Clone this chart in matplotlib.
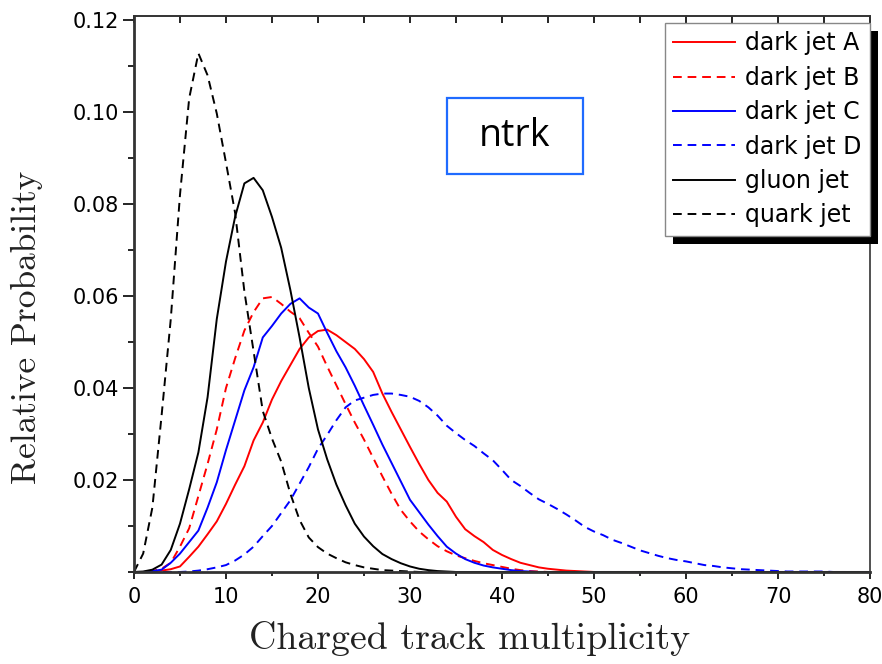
import matplotlib.pyplot as plt
from matplotlib.patches import Rectangle
from matplotlib.ticker import MultipleLocator, FixedLocator, FixedFormatter
import numpy as np

# charged track multiplicity bins 0..80, relative probability per bin
ntrk = list(range(0, 81))

quark_jet = [0.0, 0.004, 0.014, 0.034, 0.055, 0.082, 0.103, 0.1128, 0.108, 0.0997,
             0.089, 0.078, 0.061, 0.048, 0.035, 0.029, 0.024, 0.017, 0.0113, 0.0075,
             0.0054, 0.004, 0.003, 0.0021, 0.0015, 0.001, 0.0007, 0.0004, 0.0003, 0.0002,
             0.0001]
gluon_jet = [0.0, 0.0001, 0.0005, 0.0016, 0.0048, 0.0105, 0.018, 0.026, 0.038, 0.055,
             0.0675, 0.0773, 0.0845, 0.0857, 0.083, 0.0772, 0.0705, 0.0613, 0.051, 0.040,
             0.031, 0.0245, 0.019, 0.0145, 0.0105, 0.0077, 0.0056, 0.0039, 0.0028, 0.0019,
             0.0012, 0.0007, 0.0004, 0.0002, 0.0001]
dark_a = [0.0, 0.0, 0.0001, 0.0003, 0.0006, 0.0012, 0.0033, 0.0055, 0.0082, 0.011,
          0.0148, 0.019, 0.023, 0.0286, 0.0325, 0.0375, 0.0415, 0.045, 0.0485, 0.051,
          0.0524, 0.0527, 0.0515, 0.050, 0.0485, 0.0463, 0.0435, 0.0388, 0.0348, 0.031,
          0.0272, 0.0235, 0.020, 0.0172, 0.0153, 0.012, 0.0093, 0.0078, 0.0065, 0.0048,
          0.0037, 0.0028, 0.002, 0.0015, 0.001, 0.0007, 0.0005, 0.0003, 0.0002, 0.0001]
dark_b = [0.0, 0.0, 0.0002, 0.0007, 0.002, 0.0055, 0.0095, 0.0165, 0.0235, 0.031,
          0.040, 0.0465, 0.0525, 0.0565, 0.0595, 0.0598, 0.0583, 0.0566, 0.0552, 0.052,
          0.049, 0.0447, 0.0406, 0.0365, 0.0325, 0.0288, 0.0248, 0.0208, 0.017, 0.0135,
          0.011, 0.0088, 0.0071, 0.0056, 0.0045, 0.0036, 0.003, 0.0024, 0.0019, 0.0015,
          0.0011, 0.0007, 0.0004, 0.0002, 0.0001]
dark_c = [0.0, 0.0, 0.0002, 0.0005, 0.002, 0.004, 0.0065, 0.009, 0.014, 0.0195,
          0.0265, 0.033, 0.0395, 0.0445, 0.051, 0.0535, 0.0562, 0.0583, 0.0595, 0.0575,
          0.0562, 0.052, 0.048, 0.0445, 0.0405, 0.0362, 0.032, 0.0277, 0.0237, 0.0197,
          0.0157, 0.013, 0.0103, 0.0078, 0.0055, 0.004, 0.0028, 0.002, 0.0014, 0.001,
          0.0007, 0.0004, 0.0002, 0.0001]
dark_d = [0.0, 0.0, 0.0, 0.0, 0.0, 0.0, 0.0001, 0.0003, 0.0006, 0.001,
          0.0015, 0.0025, 0.0038, 0.0055, 0.0078, 0.010, 0.0128, 0.0156, 0.0192, 0.0228,
          0.0268, 0.0298, 0.033, 0.0358, 0.0373, 0.0379, 0.0385, 0.0388, 0.0388, 0.0385,
          0.0381, 0.0372, 0.0358, 0.034, 0.0318, 0.0302, 0.0287, 0.0274, 0.0258, 0.0243,
          0.0222, 0.020, 0.0187, 0.0172, 0.0158, 0.0148, 0.0137, 0.0125, 0.0112, 0.0098,
          0.0088, 0.008, 0.007, 0.0063, 0.0055, 0.0047, 0.0041, 0.0035, 0.003, 0.0026,
          0.0023, 0.0019, 0.0015, 0.0013, 0.001, 0.0008, 0.0006, 0.0005, 0.0004, 0.0003,
          0.0002, 0.0001, 0.0001, 0.0001, 0.0001, 0.0001]


def full(vals):
    # curves sit at zero for the rest of the range
    return vals + [0.0] * (len(ntrk) - len(vals))


series = [
    (dark_a, 'dark jet A', 'red', '-'),
    (dark_b, 'dark jet B', 'red', '--'),
    (dark_c, 'dark jet C', 'blue', '-'),
    (dark_d, 'dark jet D', 'blue', '--'),
    (gluon_jet, 'gluon jet', 'black', '-'),
    (quark_jet, 'quark jet', 'black', '--'),
]

fig = plt.figure(figsize=(8.82, 6.64), dpi=100)
ax = fig.add_axes([0.1519, 0.1386, 0.8345, 0.8373])

for vals, lab, col, ls in series:
    line, = ax.plot(ntrk, full(vals), color=col, lw=1.4, ls=ls, label=lab)
    if ls == '--':
        line.set_dashes((4.5, 3))

ax.set_xlim(0, 80)
ax.set_ylim(0, 0.1209)

ax.xaxis.set_major_locator(MultipleLocator(10))
ax.xaxis.set_minor_locator(MultipleLocator(5))
yt = [0.02, 0.04, 0.06, 0.08, 0.10, 0.12]
ax.yaxis.set_major_locator(FixedLocator(yt))
ax.yaxis.set_major_formatter(FixedFormatter(['%.2f' % v for v in yt]))
ax.yaxis.set_minor_locator(MultipleLocator(0.01))

ax.tick_params(axis='x', which='major', direction='out', length=5, width=1.2, pad=6,
               labelsize=15, top=False)
ax.tick_params(axis='x', which='minor', direction='out', length=3, width=1.2, top=False)
ax.tick_params(axis='y', which='major', direction='out', length=8, width=1.2, pad=3,
               labelsize=15, right=False)
ax.tick_params(axis='y', which='minor', direction='out', length=4.5, width=1.2, right=False)

top = ax.secondary_xaxis('top')
top.set_xticks(np.arange(0, 81, 5))
top.tick_params(axis='x', direction='in', length=5, width=1.2, labeltop=False)

for s in ['left', 'bottom']:
    ax.spines[s].set_linewidth(2.0)
    ax.spines[s].set_color('#333333')
for s in ['top', 'right']:
    ax.spines[s].set_linewidth(1.2)
    ax.spines[s].set_color('#333333')
top.spines['top'].set_linewidth(1.2)
top.spines['top'].set_color('#333333')

ax.set_xlabel('Charged track multiplicity', fontfamily='cmr10', fontsize=27.3,
              color='#222222')
ax.set_ylabel('Relative Probability', fontfamily='cmr10', fontsize=25.5,
              color='#222222')
ax.xaxis.set_label_coords(0.4565, -0.088)
ax.yaxis.set_label_coords(-0.123, 0.4406)

# ntrk tag
ax.add_patch(Rectangle((34.0, 0.0866), 14.8, 0.0165, fill=False, edgecolor='#1f6bff',
                       lw=1.6, zorder=4))
ax.text(41.4, 0.0949, 'ntrk', fontfamily='Open Sans', fontsize=27, ha='center',
        va='center', zorder=4)

leg = ax.legend(loc='upper right', bbox_to_anchor=(1.0, 0.987), borderaxespad=0,
                fontsize=17, handlelength=2.6, handletextpad=0.45, labelspacing=0.44,
                borderpad=0.35, fancybox=False, framealpha=1, edgecolor='#888888')
leg.get_frame().set_linewidth(1.0)

# black drop shadow behind the legend
fig.canvas.draw()
bb = leg.get_window_extent().transformed(ax.transAxes.inverted())
dx = 8 / (ax.bbox.width)
dy = 8 / (ax.bbox.height)
ax.add_patch(Rectangle((bb.x0 + dx, bb.y0 - dy), bb.width, bb.height, transform=ax.transAxes,
                       facecolor='black', edgecolor='none', clip_on=False, zorder=4.9))

fig.savefig('out.png', dpi=100)
